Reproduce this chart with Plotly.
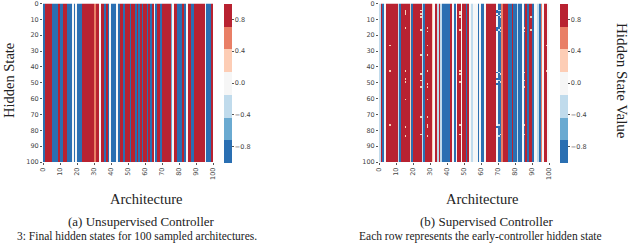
import plotly.graph_objects as go

ARCH = list(range(100))
STATE = list(range(100))
TICKS = list(range(0, 101, 10))
CB_TICKS = [-0.8, -0.4, 0.0, 0.4, 0.8]
CB_LABELS = ["\u22120.8", "\u22120.4", "0.0", "0.4", "0.8"]

R, O, P, W, L, M, B = 0.9, 0.6, 0.3, 0.0, -0.3, -0.6, -0.9

UNSUP = [B, R, R, R, R, B, B, B, B, R, B, B, R, R, B, B, B, W, B, W,
         B, B, B, R, R, R, R, R, R, R, O, R, R, W, R, R, B, R, B, W,
         B, B, B, W, B, R, R, B, R, R, R, B, R, R, B, R, B, R, B, R,
         R, B, R, B, R, W, B, R, R, B, R, R, R, R, R, M, W, R, R, B,
         B, B, R, B, W, R, R, B, B, R, R, R, R, R, R, W, B, B, B, R]

SUP = [L, R, B, W, R, R, R, R, R, R, R, L, B, R, R, R, R, R, P, B,
       R, R, R, R, R, L, B, R, R, R, R, P, W, R, L, R, L, B, B, B,
       B, B, R, W, B, W, R, R, W, R, R, B, R, W, L, W, W, W, B, W,
       B, B, W, R, R, R, R, R, R, W, B, B, O, R, R, R, B, B, R, B,
       B, L, B, B, W, B, R, B, R, R, B, W, W, L, B, O, W, R, R, W]

EXC_ROW = [4, 5, 6, 7, 8, 15, 16, 17, 26, 32, 42, 43, 44, 47, 48, 49, 50, 52, 60, 71, 76, 77, 82, 83]
EXC_COL = [[0, 15, 24, 69, 70, 71], [15, 47, 69], [15, 24, 47, 71], [69, 70], [24, 47, 71, 89],
           [0, 15, 28, 69, 71, 85], [24, 47, 69, 70, 89], [28, 71, 85], [6, 28, 54, 98], [28, 24],
           [0, 6, 15, 28, 47, 98], [69, 70, 85], [24, 47, 71], [15, 54, 69], [0, 24, 70, 85],
           [15, 47, 71], [28, 54, 69], [0, 24, 28, 85], [28, 15], [24, 28], [6, 28, 47, 70, 85],
           [15, 28, 69], [24, 47, 71, 85], [15, 28, 70]]

def cell_value(v):
    if v >= R:
        return P
    if v <= B:
        return L
    if v == W:
        return B
    return v

z_left = [UNSUP[:] for _ in STATE]
z_right = [SUP[:] for _ in STATE]
for r, cols in zip(EXC_ROW, EXC_COL):
    for c in cols:
        z_right[r][c] = cell_value(SUP[c])

COLORS = ["#2a6fb2", "#6aaad1", "#c0dbec", "#f6f6f6", "#fdcdb5", "#e97f66", "#b82231"]
scale = []
for i, c in enumerate(COLORS):
    scale += [[i / 7, c], [(i + 1) / 7, c]]

W_PX, H_PX = 640, 244
TICK_FONT = dict(family="DejaVu Sans", size=6.5, color="#444")

fig = go.Figure()
for z, ax, x_cb in ((z_left, "", 224), (z_right, "2", 560)):
    fig.add_trace(go.Heatmap(
        z=z, x=[a + 0.5 for a in ARCH], y=[s + 0.5 for s in STATE],
        xaxis="x" + ax, yaxis="y" + ax, zmin=-1, zmax=1, colorscale=scale,
        colorbar=dict(x=x_cb / W_PX, xanchor="left", y=1 - 3.5 / H_PX, yanchor="top",
                      len=158.5, lenmode="pixels", thickness=8, xpad=0, ypad=0,
                      thicknessmode="pixels", outlinewidth=0, tickvals=CB_TICKS, ticktext=CB_LABELS,
                      ticks="outside", ticklen=2, tickcolor="#555", tickwidth=0.7,
                      tickfont=TICK_FONT)))

def xd(a, b): return [a / W_PX, b / W_PX]
yd = [1 - 162 / H_PX, 1 - 3.5 / H_PX]
axis_x = dict(range=[0, 100], tickvals=TICKS, ticktext=[str(t) for t in TICKS], tickangle=-90,
              ticks="outside", ticklen=2, tickwidth=0.7, tickcolor="#555", showgrid=False, zeroline=False,
              automargin=False, tickfont=TICK_FONT)
axis_y = dict(range=[100, 0], tickvals=TICKS, ticktext=[str(t) for t in TICKS], tickangle=0,
              ticks="outside", ticklen=2, tickwidth=0.7, tickcolor="#555", showgrid=False, zeroline=False,
              automargin=False, tickfont=TICK_FONT)

SERIF = "Liberation Serif"
def txt(x, y, s, size, angle=0):
    return dict(x=x / W_PX, y=1 - y / H_PX, xref="paper", yref="paper", text=s, showarrow=False,
                textangle=angle, xanchor="center", yanchor="middle",
                font=dict(family=SERIF, size=size, color="#222"))

fig.update_layout(
    width=W_PX, height=H_PX, margin=dict(l=0, r=0, t=0, b=0, pad=0, autoexpand=False), showlegend=False,
    paper_bgcolor="white", plot_bgcolor="white",
    xaxis=dict(domain=xd(43, 213), anchor="y", **axis_x),
    yaxis=dict(domain=yd, anchor="x", **axis_y),
    xaxis2=dict(domain=xd(379, 549), anchor="y2", **axis_x),
    yaxis2=dict(domain=yd, anchor="x2", **axis_y),
    annotations=[
        txt(9, 81, "Hidden State", 14.5, -90),
        txt(146, 199, "Architecture", 14.5),
        txt(141, 221, "(a) Unsupervised Controller", 13),
        txt(482, 199, "Architecture", 14.5),
        txt(487, 221, "(b) Supervised Controller", 13),
        txt(622, 81, "Hidden State Value", 15, 90),
        txt(137, 236.5, "3: Final hidden states for 100 sampled architectures.", 11.5),
        txt(480, 236.5, "Each row represents the early-controller hidden state", 11.5),
    ])
fig.write_html("out.html", config={"displayModeBar": False},
               post_script="document.body.style.margin='0';window.dispatchEvent(new Event('resize'));")
